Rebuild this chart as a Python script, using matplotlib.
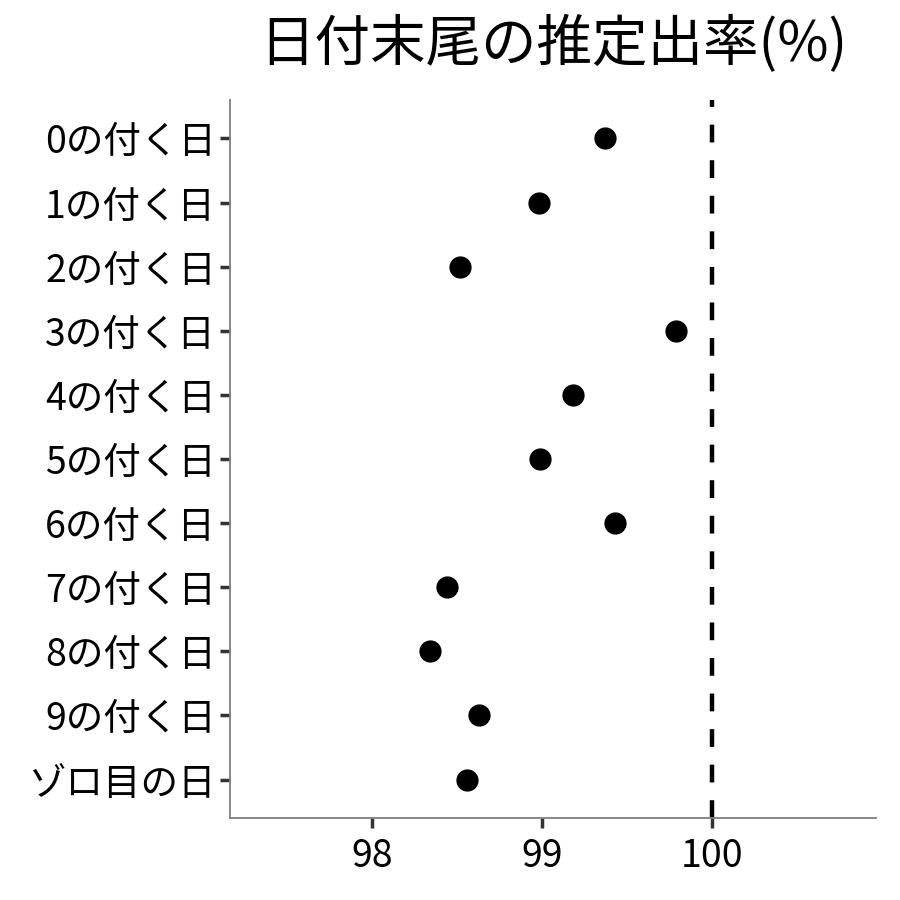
import matplotlib
matplotlib.use("Agg")
import matplotlib.pyplot as plt

plt.rcParams['font.family'] = ['Noto Sans CJK JP', 'DejaVu Sans']

categories = ["0の付く日", "1の付く日", "2の付く日", "3の付く日", "4の付く日",
              "5の付く日", "6の付く日", "7の付く日", "8の付く日", "9の付く日", "ゾロ目の日"]
values = [99.37, 98.98, 98.52, 99.79, 99.18, 98.99, 99.43, 98.44, 98.34, 98.63, 98.56]
xticks = [98, 99, 100]
ref_value = 100
title = "日付末尾の推定出率(%)"

fig = plt.figure(figsize=(9, 9), dpi=100)
ax = fig.add_axes([230/900, 1-818/900, (876-230)/900, (818-100)/900])

n = len(categories)
ypos = list(range(n, 0, -1))
ax.axvline(ref_value, color='black', linewidth=3.2, linestyle=(0, (4, 4)), zorder=1)
ax.scatter(values, ypos, s=16**2, color='black', zorder=3, linewidths=0)

ax.set_xlim(97.165, 100.965)
ax.set_ylim(0.4, n + 0.6)
ax.set_yticks(ypos)
ax.set_yticklabels(categories)
ax.set_xticks(xticks)
ax.set_xticklabels([str(t) for t in xticks])

for s in ['top', 'right']:
    ax.spines[s].set_visible(False)
for s in ['left', 'bottom']:
    ax.spines[s].set_color('#7f7f7f')
    ax.spines[s].set_linewidth(1.3)
ax.tick_params(axis='both', length=7, width=2.5, color='#333333',
               labelsize=27, labelcolor='black')
ax.tick_params(axis='y', pad=3)
ax.tick_params(axis='x', pad=6.5)

fig.text(553/900, 1-45/900, title, ha='center', va='center', fontsize=40)

fig.savefig("out.png", dpi=100, facecolor='white')
